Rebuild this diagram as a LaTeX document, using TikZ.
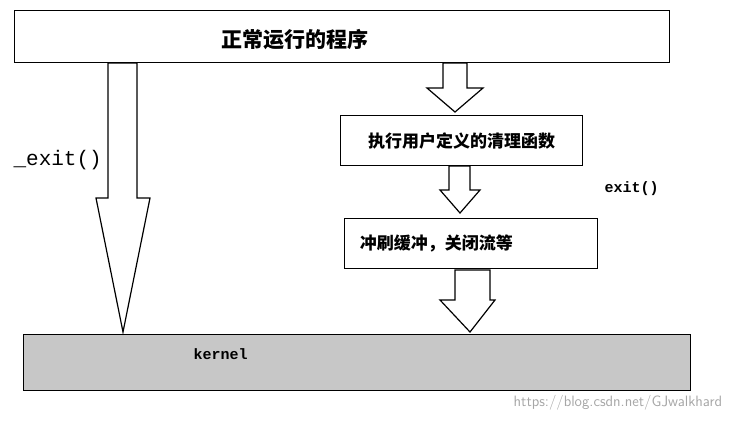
\documentclass[tikz,border=0pt]{standalone}
\usepackage{fontspec}
\newfontfamily\cjk{Noto Sans CJK SC}
\setmonofont{Liberation Mono}
\usetikzlibrary{positioning}
\tikzset{every picture/.style={line width=1.2pt}}
\tikzset{
  stagebox/.style={draw, rectangle, anchor=north west, inner sep=0pt},
  fatarrow/.style={draw, fill=white, line join=miter},
  codelabel/.style={font=\ttfamily\bfseries\fontsize{15}{17}\selectfont, anchor=west, inner sep=0pt}
}
\begin{document}
\begin{tikzpicture}[x=1pt, y=-1pt]
    \useasboundingbox (0,0) rectangle (733,421);
    % boxes
    \node[stagebox, minimum width=655pt, minimum height=52pt] (prog) at (14,10) {};
    \node[font=\cjk\bfseries\fontsize{21}{24}\selectfont] at (295,40) {正常运行的程序};
    \node[stagebox, minimum width=242pt, minimum height=50pt] (clean) at (340,115) {};
    \node[font=\cjk\bfseries\fontsize{17}{20}\selectfont] at (clean.center) {执行用户定义的清理函数};
    \node[stagebox, minimum width=253pt, minimum height=50pt] (flush) at (344,218) {};
    \node[font=\cjk\bfseries\fontsize{17}{20}\selectfont, anchor=west] at (356,243) {冲刷缓冲，关闭流等};
    \node[stagebox, fill=black!22, minimum width=667pt, minimum height=56pt] (kernel) at (23,334) {};

    % arrows
    \draw[fatarrow] (108,63) -- (137,63) -- (137,198) -- (150,198) -- (123,332) -- (96,198) -- (108,198) -- cycle;
    \draw[fatarrow] (443,63) -- (467,63) -- (467,88) -- (483,88) -- (455,112) -- (427,88) -- (443,88) -- cycle;
    \draw[fatarrow] (449,166) -- (470,166) -- (470,190) -- (480,190) -- (460,213) -- (440,190) -- (449,190) -- cycle;
    \draw[fatarrow] (455,270) -- (490,270) -- (490,300) -- (495,300) -- (470,332) -- (440,300) -- (455,300) -- cycle;

    % labels
    \node[codelabel, font=\ttfamily\fontsize{21}{24}\selectfont] (quick) at (13,160) {\_exit()};
    \node[codelabel] (normal) at (604,189) {exit()};
    \node[codelabel] (kname) at (193,354) {kernel};
    \node[anchor=east, text=black!35, font=\sffamily\fontsize{15}{17}\selectfont] (mark) at (726,403) {https://blog.csdn.net/GJwalkhard};
\end{tikzpicture}
\end{document}
